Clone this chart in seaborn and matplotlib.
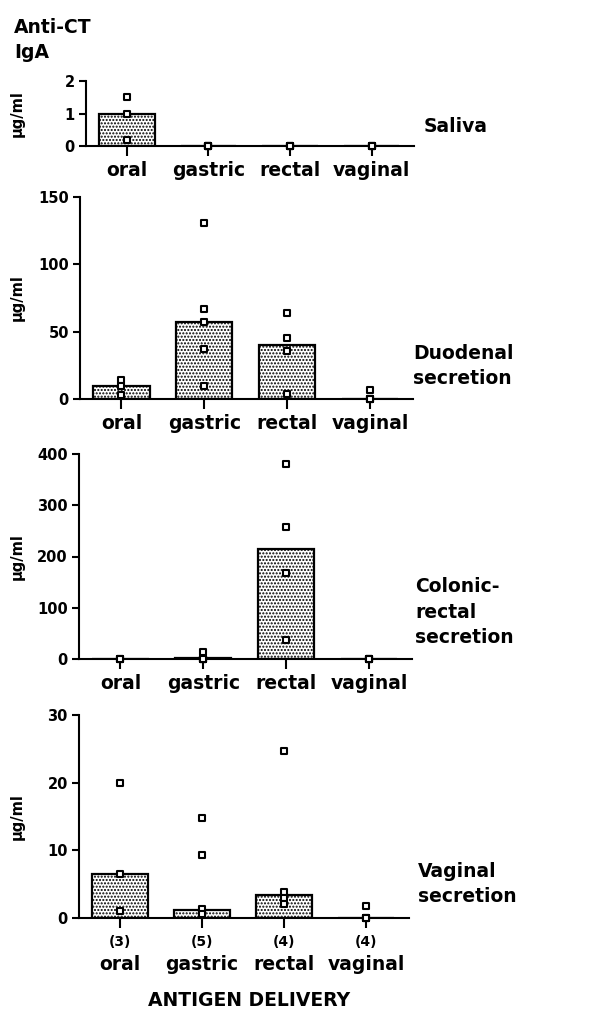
import numpy as np
import pandas as pd
import matplotlib
matplotlib.use("Agg")
import matplotlib.pyplot as plt
import matplotlib.transforms as mtransforms
import seaborn as sns

# ---------------- data ----------------
routes = ["oral", "gastric", "rectal", "vaginal"]
n_animals = [3, 5, 4, 4]

saliva_bars = [1.0, 0.0, 0.0, 0.0]
saliva_oral = [1.5, 1.0, 0.2]
saliva_gastric = [0, 0, 0, 0, 0]
saliva_rectal = [0, 0, 0, 0]
saliva_vaginal = [0, 0, 0, 0]

duod_bars = [10, 57, 40, 0]
duod_oral = [14, 9.5, 3]
duod_gastric = [131, 67, 57, 37, 10]
duod_rectal = [64, 45, 36, 4]
duod_vaginal = [7, 0, 0, 0]

colon_bars = [0, 2, 214, 0]
colon_oral = [0, 0, 0]
colon_gastric = [14, 0, 0, 0, 0]
colon_rectal = [381, 257, 167, 38]
colon_vaginal = [0, 0, 0, 0]

vag_bars = [6.5, 1.2, 3.4, 0]
vag_oral = [20, 6.5, 1.0]
vag_gastric = [14.8, 9.3, 1.3, 0.6, 0.6]
vag_rectal = [24.7, 3.8, 2.9, 2.1]
vag_vaginal = [1.8, 0, 0, 0]

panel_names = ["Saliva", "Duodenal\nsecretion", "Colonic-\nrectal\nsecretion", "Vaginal\nsecretion"]
ylims = [2, 150, 400, 30]
yticks = [[0, 1, 2], [0, 50, 100, 150], [0, 100, 200, 300, 400], [0, 10, 20, 30]]

panels = [
    (saliva_bars, [saliva_oral, saliva_gastric, saliva_rectal, saliva_vaginal]),
    (duod_bars, [duod_oral, duod_gastric, duod_rectal, duod_vaginal]),
    (colon_bars, [colon_oral, colon_gastric, colon_rectal, colon_vaginal]),
    (vag_bars, [vag_oral, vag_gastric, vag_rectal, vag_vaginal]),
]

# ---------------- style ----------------
sns.set_style("ticks")
plt.rcParams["font.family"] = ["DejaVu Sans"]
plt.rcParams["font.weight"] = "bold"
plt.rcParams["hatch.linewidth"] = 1.0
plt.rcParams["axes.linewidth"] = 1.5
for key in ["text.color", "axes.labelcolor", "xtick.color", "ytick.color", "axes.edgecolor"]:
    plt.rcParams[key] = "black"

W, H = 591, 1010
fig = plt.figure(figsize=(W / 100, H / 100), dpi=100)

# pixel boxes: left, right, top, bottom
boxes = [(86, 414, 81, 146), (80, 413, 197, 399), (79, 412, 454, 659), (79, 409, 715, 918)]
label_x = [424, 413, 415, 418]
label_y = [127, 366, 612, 884]

for i, ((bars, pts), (l, r, t, b)) in enumerate(zip(panels, boxes)):
    ax = fig.add_axes([l / W, 1 - b / H, (r - l) / W, (b - t) / H])
    bar_df = pd.DataFrame({"route": routes, "value": bars})
    pt_rows = [(rt, v) for rt, vals in zip(routes, pts) for v in vals]
    pt_df = pd.DataFrame(pt_rows, columns=["route", "value"])

    sns.barplot(data=bar_df, x="route", y="value", order=routes, ax=ax,
                color="white", saturation=1, edgecolor="black", linewidth=1.6,
                width=0.68, errorbar=None, hatch=".....")
    sns.stripplot(data=pt_df, x="route", y="value", order=routes, ax=ax,
                  jitter=False, marker="s", size=5, color="white",
                  edgecolor="black", linewidth=1.5, zorder=4, clip_on=False)

    ax.set_ylim(0, ylims[i])
    ax.set_xlim(-0.5, 3.52)
    ax.set_yticks(yticks[i])
    ax.set_yticklabels([str(v) for v in yticks[i]], fontsize=10.5, fontweight="bold")
    ax.set_xticks(range(4))
    ax.set_xticklabels(routes, fontsize=13.5, fontweight="bold")
    ax.tick_params(axis="y", length=5, width=1.5, pad=3, colors="black")
    ax.tick_params(axis="x", length=7, width=1.5, pad=4 if i < 3 else 20, colors="black")
    sns.despine(ax=ax)
    ax.set_xlabel("")
    ax.set_ylabel("\u03bcg/ml", fontsize=10.5, fontweight="bold", color="black")
    ax.yaxis.set_label_coords(25 / W, 1 - (t + b) / 2 / H, transform=fig.transFigure)

    fig.text(label_x[i] / W, 1 - label_y[i] / H, panel_names[i], color="black",
             fontsize=13.5, fontweight="bold", ha="left", va="center", linespacing=1.45)

    if i == 3:
        trans = mtransforms.blended_transform_factory(ax.transData, fig.transFigure)
        for k, n in enumerate(n_animals):
            ax.text(k, 1 - 942 / H, f"({n})", transform=trans, ha="center", va="center",
                    fontsize=10, fontweight="bold", color="black")

fig.text(14 / W, 1 - 40 / H, "Anti-CT\nIgA", fontsize=13.5, fontweight="bold",
         ha="left", va="center", linespacing=1.45, color="black")
fig.text(249 / W, 1 - 1000 / H, "ANTIGEN DELIVERY", fontsize=13.5, fontweight="bold",
         ha="center", va="center", color="black")

fig.savefig("out.png", dpi=100, facecolor="white")
